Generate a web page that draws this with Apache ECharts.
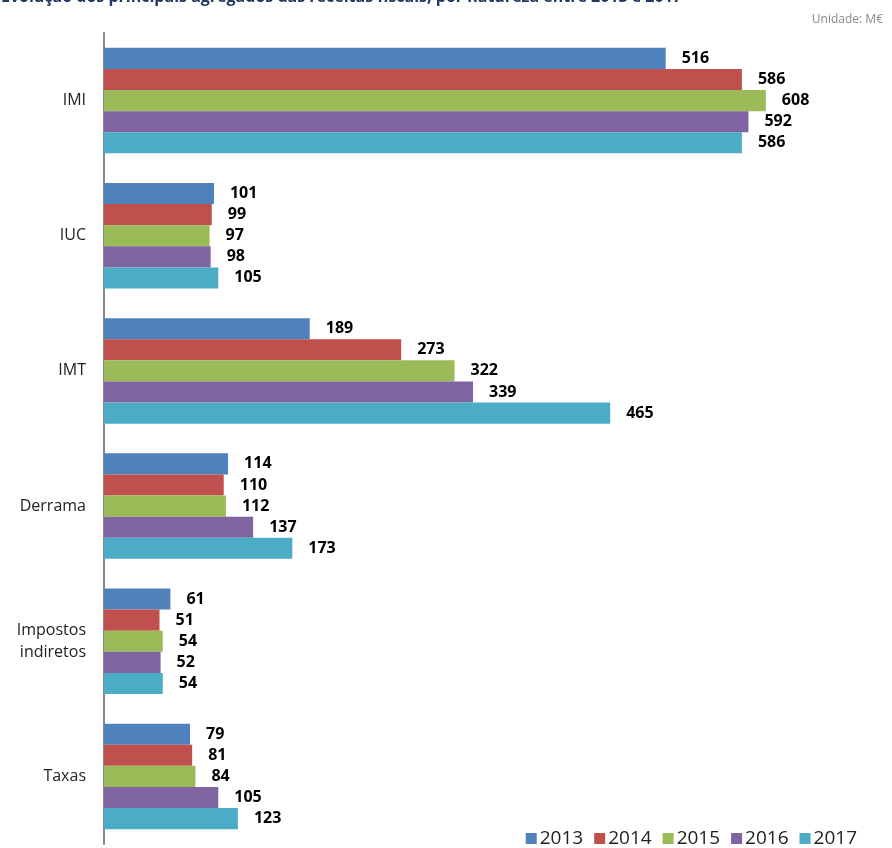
<!DOCTYPE html>
<html>
<head>
<meta charset="utf-8">
<script src="https://cdn.jsdelivr.net/npm/echarts@6/dist/echarts.min.js"></script>
<style>
  html, body { margin: 0; padding: 0; background: #fff; }
  #chart { width: 892px; height: 848px; }
</style>
</head>
<body>
<div id="chart"></div>
<script>
// categorias e valores (M€)
const categories = ['IMI', 'IUC', 'IMT', 'Derrama', 'Impostos\nindiretos', 'Taxas']
const years = ['2013', '2014', '2015', '2016', '2017']
const v2013 = [516, 101, 189, 114, 61, 79]
const v2014 = [586, 99, 273, 110, 51, 81]
const v2015 = [608, 97, 322, 112, 54, 84]
const v2016 = [592, 98, 339, 137, 52, 105]
const v2017 = [586, 105, 465, 173, 54, 123]
const colors = ['#4F81BD', '#C0504D', '#9BBB59', '#8064A2', '#4BACC6']

const chart = echarts.init(document.getElementById('chart'))
const values = [v2013, v2014, v2015, v2016, v2017]

const series = years.map((y, i) => ({
  name: y,
  type: 'bar',
  data: values[i],
  barGap: '0%',
  barCategoryGap: '22%',
  itemStyle: { color: colors[i] },
  label: {
    show: true,
    position: 'right',
    distance: 16,
    fontSize: 16,
    fontWeight: 'bold',
    color: '#000',
    fontFamily: 'Open Sans, sans-serif'
  }
}))

chart.setOption({
  animation: false,
  title: [
    {
      text: 'Evolução dos principais agregados das receitas fiscais, por natureza entre 2013 e 2017',
      left: -4,
      top: -16,
      textStyle: { fontSize: 16, fontWeight: 'bold', color: '#1F3864', fontFamily: 'Open Sans, sans-serif' }
    },
    {
      text: 'Unidade: M€',
      right: 4,
      top: 9,
      textStyle: { fontSize: 12, fontWeight: 'normal', color: '#888', fontFamily: 'Open Sans, sans-serif' }
    }
  ],
  legend: {
    right: 30,
    bottom: -5,
    itemWidth: 11,
    itemHeight: 11,
    itemGap: 11,
    icon: 'rect',
    textStyle: { fontSize: 19, color: '#222', fontFamily: 'Open Sans, sans-serif', padding: [0, 0, 0, -2] },
    data: years
  },
  grid: { left: 104, right: 26, top: 33, bottom: 4, containLabel: false },
  xAxis: {
    type: 'value',
    min: 0,
    max: 700,
    show: false
  },
  yAxis: {
    type: 'category',
    inverse: true,
    data: categories,
    axisLine: { show: true, lineStyle: { color: '#888', width: 2 } },
    axisTick: { show: false },
    axisLabel: {
      fontSize: 16,
      color: '#222',
      margin: 18,
      lineHeight: 22,
      align: 'right',
      fontFamily: 'Open Sans, sans-serif'
    }
  },
  series: series
})
</script>
</body>
</html>
